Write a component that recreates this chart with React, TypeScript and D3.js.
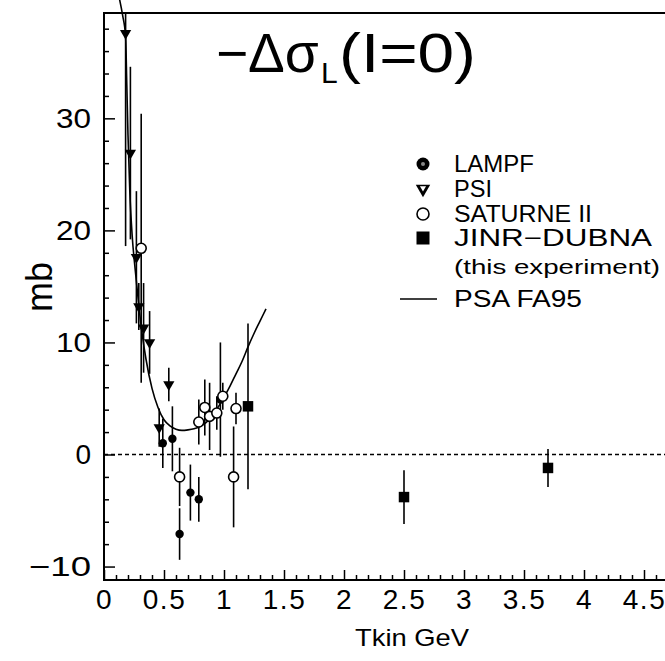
import React, { useEffect, useRef } from 'react';
import * as d3 from 'd3';

// Tkin (GeV), -dsigma_L(I=0) (mb), error (mb)
const lampfX = [0.49, 0.57, 0.63, 0.72, 0.79, 0.97];
const lampfY = [1.0, 1.4, -7.1, -3.4, -4.0, 4.9];
const lampfE = [2.2, 2.9, 2.3, 2.5, 2.0, 5.1];

const psiX = [0.18, 0.22, 0.27, 0.29, 0.33, 0.38, 0.46, 0.54];
const psiY = [37.6, 26.9, 17.6, 13.2, 11.3, 10.0, 2.4, 6.25];
const psiE = [19, 7.7, 5.9, 2.1, 4.0, 2.8, 1.7, 1.5];

const satX = [0.31, 0.63, 0.79, 0.84, 0.88, 0.94, 0.99, 1.1, 1.08];
const satY = [18.4, -2.0, 2.9, 4.2, 3.4, 3.7, 5.2, 4.1, -2.0];
const satE = [12.0, 2.6, 2.0, 2.5, 3.0, 1.5, 1.2, 1.4, 4.5];

const jinrX = [1.2, 2.5, 3.7];
const jinrY = [4.3, -3.8, -1.2];
const jinrE = [7.4, 2.4, 1.7];

// PSA FA95 curve
const psaX = [0.13, 0.155, 0.18, 0.19, 0.2, 0.215, 0.235, 0.26, 0.29, 0.32, 0.35, 0.4, 0.45, 0.5, 0.55, 0.6, 0.65, 0.7, 0.75, 0.8, 0.85, 0.9, 0.95, 1.0, 1.05, 1.1, 1.15, 1.2, 1.25, 1.3, 1.35];
const psaY = [40.6, 39.2, 37.3, 33, 28.5, 23.5, 19.5, 16.5, 13.3, 10.6, 8.5, 5.9, 4.2, 3.1, 2.55, 2.25, 2.15, 2.2, 2.3, 2.5, 2.85, 3.4, 4.2, 5.1, 6.1, 7.2, 8.3, 9.6, 10.8, 11.9, 13.0];

const xTicks = [0, 0.5, 1, 1.5, 2, 2.5, 3, 3.5, 4, 4.5];
const yTicks = [-10, 0, 10, 20, 30];

const legendItems = ['LAMPF', 'PSI', 'SATURNE II', 'JINR\u2212DUBNA'];
const legendWidths = [80, 38, 138, 198];

const FONT = '"Liberation Sans", Arial, Helvetica, sans-serif';

function App() {
  const svgRef = useRef<SVGSVGElement>(null);

  useEffect(() => {
    const W = 665, H = 661;
    const left = 104, right = 665, top = 13, bottom = 580;

    const svg = d3.select(svgRef.current);
    svg.selectAll('*').remove();
    svg.attr('width', W).attr('height', H).style('font-family', FONT);

    const x = d3.scaleLinear().domain([0, 4.675]).range([left, right]);
    const y = d3.scaleLinear().domain([-11.2, 39.4]).range([bottom, top]);
    const [yMin, yMax] = y.domain();

    // minor ticks
    const xMinor = d3.range(0, 4.68, 0.1).filter(v => Math.abs(v * 2 - Math.round(v * 2)) > 1e-6);
    const yMinor = d3.range(-10, 39.4, 2).filter(v => v % 10 !== 0);

    const gx = svg.append('g').attr('transform', `translate(0,${bottom})`);
    gx.call(d3.axisBottom(x).tickValues(xTicks).tickSize(-10).tickPadding(9).tickFormat(d => String(d)));
    gx.append('g').call(d3.axisBottom(x).tickValues(xMinor).tickSize(-5).tickFormat(() => ''));

    const gy = svg.append('g').attr('transform', `translate(${left},0)`);
    gy.call(d3.axisLeft(y).tickValues(yTicks).tickSize(-11).tickPadding(13));
    gy.append('g').call(d3.axisLeft(y).tickValues(yMinor).tickSize(-5).tickFormat(() => ''));

    svg.selectAll('.domain').remove();
    svg.selectAll('.tick line').attr('stroke', '#000').attr('stroke-width', 1.5);
    svg.selectAll('.tick text').attr('fill', '#000').style('font-family', FONT).style('font-size', '28px');
    gx.selectAll('.tick text').style('letter-spacing', '1.5px');
    gy.selectAll('.tick text')
      .attr('textLength', (d: any) => (d < 0 ? 62 : d === 0 ? null : 35))
      .attr('lengthAdjust', 'spacingAndGlyphs');

    // frame: left, top, bottom
    svg.append('path')
      .attr('d', `M${right},${top}H${left}V${bottom}H${right}`)
      .attr('fill', 'none').attr('stroke', '#000').attr('stroke-width', 2);

    // zero line
    svg.append('line')
      .attr('x1', left).attr('x2', right).attr('y1', y(0)).attr('y2', y(0))
      .attr('stroke', '#000').attr('stroke-width', 1.5).attr('stroke-dasharray', '4,3');

    // PSA curve
    const line = d3.line<number>()
      .x((_, i) => x(psaX[i]))
      .y(d => y(d))
      .curve(d3.curveMonotoneX);
    svg.append('path').datum(psaY).attr('d', line)
      .attr('fill', 'none').attr('stroke', '#000').attr('stroke-width', 1.6);

    const errBars = (xs: number[], ys: number[], es: number[]) => {
      svg.append('g').selectAll('line').data(xs).join('line')
        .attr('x1', d => x(d)).attr('x2', d => x(d))
        .attr('y1', (_, i) => y(Math.min(ys[i] + es[i], yMax)))
        .attr('y2', (_, i) => y(Math.max(ys[i] - es[i], yMin)))
        .attr('stroke', '#000').attr('stroke-width', 1.6);
    };
    errBars(psiX, psiY, psiE);
    errBars(lampfX, lampfY, lampfE);
    errBars(satX, satY, satE);
    errBars(jinrX, jinrY, jinrE);

    const tri = d3.symbol().type(d3.symbolTriangle).size(55);
    const sq = d3.symbol().type(d3.symbolSquare).size(110);

    svg.append('g').selectAll('path').data(psiX).join('path')
      .attr('d', tri)
      .attr('transform', (d, i) => `translate(${x(d)},${y(psiY[i])}) rotate(180)`)
      .attr('fill', '#000');

    svg.append('g').selectAll('circle').data(lampfX).join('circle')
      .attr('cx', d => x(d)).attr('cy', (_, i) => y(lampfY[i]))
      .attr('r', 4.2).attr('fill', '#000');

    svg.append('g').selectAll('circle').data(satX).join('circle')
      .attr('cx', d => x(d)).attr('cy', (_, i) => y(satY[i]))
      .attr('r', 5).attr('fill', '#fff').attr('stroke', '#000').attr('stroke-width', 1.6);

    svg.append('g').selectAll('path').data(jinrX).join('path')
      .attr('d', sq)
      .attr('transform', (d, i) => `translate(${x(d)},${y(jinrY[i])})`)
      .attr('fill', '#000');

    // title
    svg.append('text').attr('x', 216).attr('y', 72).attr('font-size', 55).attr('fill', '#000')
      .text('\u2212\u0394\u03c3');
    svg.append('text').attr('x', 321).attr('y', 83).attr('font-size', 30).attr('fill', '#000')
      .text('L');
    svg.append('text').attr('x', 339).attr('y', 72).attr('font-size', 55).attr('fill', '#000')
      .attr('textLength', 137).attr('lengthAdjust', 'spacingAndGlyphs').text('(I=0)');

    // axis titles
    svg.append('text').attr('x', 412).attr('y', 646).attr('text-anchor', 'middle')
      .attr('font-size', 24).attr('fill', '#000')
      .attr('textLength', 114).attr('lengthAdjust', 'spacingAndGlyphs').text('Tkin GeV');
    svg.append('text').attr('transform', 'translate(52,287) rotate(-90)')
      .attr('text-anchor', 'middle').attr('font-size', 36).attr('fill', '#000').text('mb');

    // legend
    const lx = 423, tx = 454;
    const ly = [164, 189, 214, 238];
    const lg = svg.append('g');
    lg.append('circle').attr('cx', lx).attr('cy', ly[0]).attr('r', 6.5).attr('fill', '#000');
    lg.append('circle').attr('cx', lx).attr('cy', ly[0]).attr('r', 2).attr('fill', '#888');
    lg.append('path').attr('d', d3.symbol().type(d3.symbolTriangle).size(90)())
      .attr('transform', `translate(${lx},${ly[1]}) rotate(180)`).attr('fill', '#000');
    lg.append('path').attr('d', d3.symbol().type(d3.symbolTriangle).size(16)())
      .attr('transform', `translate(${lx},${ly[1] - 1}) rotate(180)`).attr('fill', '#fff');
    lg.append('circle').attr('cx', lx).attr('cy', ly[2]).attr('r', 6).attr('fill', '#fff')
      .attr('stroke', '#000').attr('stroke-width', 1.6);
    lg.append('rect').attr('x', lx - 6.5).attr('y', ly[3] - 6.5).attr('width', 13).attr('height', 13).attr('fill', '#000');
    lg.append('line').attr('x1', 400).attr('x2', 437).attr('y1', 299).attr('y2', 299)
      .attr('stroke', '#000').attr('stroke-width', 1.6);

    lg.selectAll('text.item').data(legendItems).join('text')
      .attr('class', 'item')
      .attr('x', tx).attr('y', (_, i) => ly[i] + 8)
      .attr('font-size', 23).attr('fill', '#000')
      .attr('textLength', (_, i) => legendWidths[i]).attr('lengthAdjust', 'spacingAndGlyphs')
      .text(d => d);
    lg.append('text').attr('x', tx).attr('y', 274).attr('font-size', 21).attr('fill', '#000')
      .attr('textLength', 206).attr('lengthAdjust', 'spacingAndGlyphs')
      .text('(this experiment)');
    lg.append('text').attr('x', tx).attr('y', 307).attr('font-size', 23).attr('fill', '#000')
      .attr('textLength', 128).attr('lengthAdjust', 'spacingAndGlyphs')
      .text('PSA FA95');
  }, []);

  return (
    <svg ref={svgRef} style={{ position: 'absolute', left: 0, top: 0, background: '#fff' }}></svg>
  );
}

export default App;
